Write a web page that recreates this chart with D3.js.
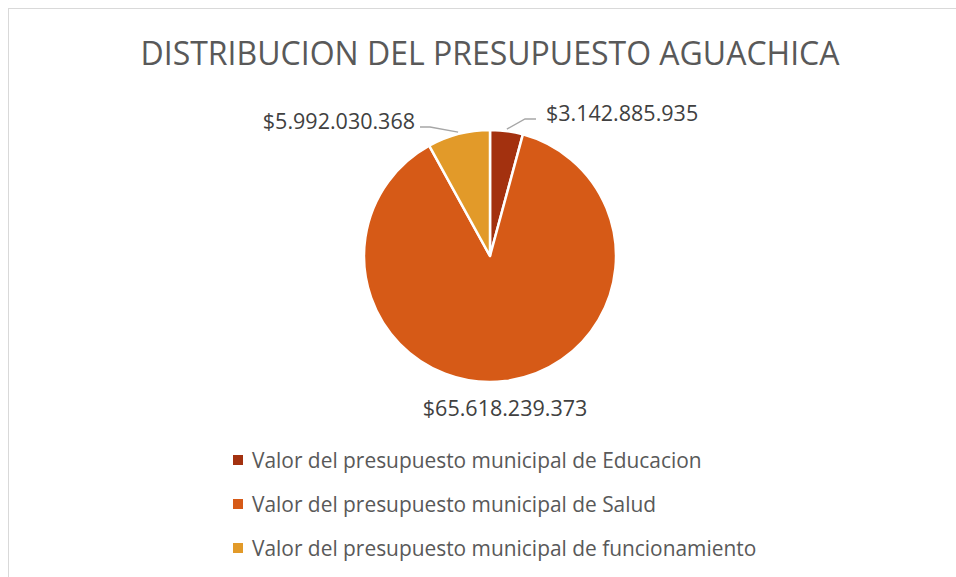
<!DOCTYPE html>
<html>
<head>
<meta charset="utf-8">
<script src="https://cdn.jsdelivr.net/npm/d3@7"></script>
<style>
  body { margin: 0; background: #fff; }
  text { font-family: "Open Sans", sans-serif; }
</style>
</head>
<body>
<script>
const title = 'DISTRIBUCION DEL PRESUPUESTO AGUACHICA';
const categories = [
  'Valor del presupuesto municipal de Educacion',
  'Valor del presupuesto municipal de Salud',
  'Valor del presupuesto municipal de funcionamiento'
];
const values = [3142885935, 65618239373, 5992030368];
const valueLabels = ['$3.142.885.935', '$65.618.239.373', '$5.992.030.368'];
const colors = ['#a3310f', '#d65a17', '#e29a29'];

const W = 956, H = 577;
const svg = d3.select('body').append('svg')
  .attr('width', W)
  .attr('height', H);

// chart frame (runs off the right and bottom edge)
svg.append('rect')
  .attr('x', 8.5).attr('y', 8.5)
  .attr('width', W + 20).attr('height', H + 20)
  .attr('fill', '#fff')
  .attr('stroke', '#d9d9d9');

svg.append('text')
  .attr('x', 490).attr('y', 65)
  .attr('text-anchor', 'middle')
  .attr('font-size', 32)
  .attr('fill', '#595959')
  .text(title);

const cx = 490, cy = 256, r = 126;
const g = svg.append('g').attr('transform', 'translate(' + cx + ',' + cy + ')');

const pie = d3.pie().sort(null).value(d => d);
const arcs = pie(values);
const arc = d3.arc().innerRadius(0).outerRadius(r);

g.selectAll('path.slice')
  .data(arcs)
  .enter()
  .append('path')
  .attr('class', 'slice')
  .attr('d', arc)
  .attr('fill', (d, i) => colors[i])
  .attr('stroke', '#fff')
  .attr('stroke-width', 2.5)
  .attr('stroke-linejoin', 'round');

// point just outside the middle of a slice's arc
function edge(d, rr) {
  const a = (d.startAngle + d.endAngle) / 2;
  return [Math.sin(a) * rr, -Math.cos(a) * rr];
}

const lineCol = '#a6a6a6';
// Educacion (right, with leader)
{
  const p = edge(arcs[0], r + 2);
  svg.append('polyline')
    .attr('points', [[cx + p[0], cy + p[1]], [525, 119], [536, 119]].map(q => q.join(',')).join(' '))
    .attr('fill', 'none').attr('stroke', lineCol).attr('stroke-width', 1.3);
  svg.append('text').attr('x', 546).attr('y', 121)
    .attr('font-size', 21.5).attr('fill', '#404040').text(valueLabels[0]);
}
// funcionamiento (left, with leader)
{
  const p = edge(arcs[2], r + 2);
  svg.append('polyline')
    .attr('points', [[cx + p[0], cy + p[1]], [430, 127], [420, 127]].map(q => q.join(',')).join(' '))
    .attr('fill', 'none').attr('stroke', lineCol).attr('stroke-width', 1.3);
  svg.append('text').attr('x', 415).attr('y', 129)
    .attr('text-anchor', 'end')
    .attr('font-size', 21.5).attr('fill', '#404040').text(valueLabels[2]);
}
// Salud (below)
{
  const p = edge(arcs[1], r);
  svg.append('text').attr('x', cx + p[0]).attr('y', 416)
    .attr('text-anchor', 'middle')
    .attr('font-size', 21.5).attr('fill', '#404040').text(valueLabels[1]);
}

// legend
const legend = svg.append('g').attr('transform', 'translate(233,460)');
const rows = legend.selectAll('g')
  .data(categories)
  .enter()
  .append('g')
  .attr('transform', (d, i) => 'translate(0,' + i * 44 + ')');
rows.append('rect')
  .attr('x', 0).attr('y', -5)
  .attr('width', 10).attr('height', 10)
  .attr('fill', (d, i) => colors[i]);
rows.append('text')
  .attr('x', 19).attr('y', 7.5)
  .attr('font-size', 20.9)
  .attr('fill', '#595959')
  .text(d => d);
</script>
</body>
</html>
